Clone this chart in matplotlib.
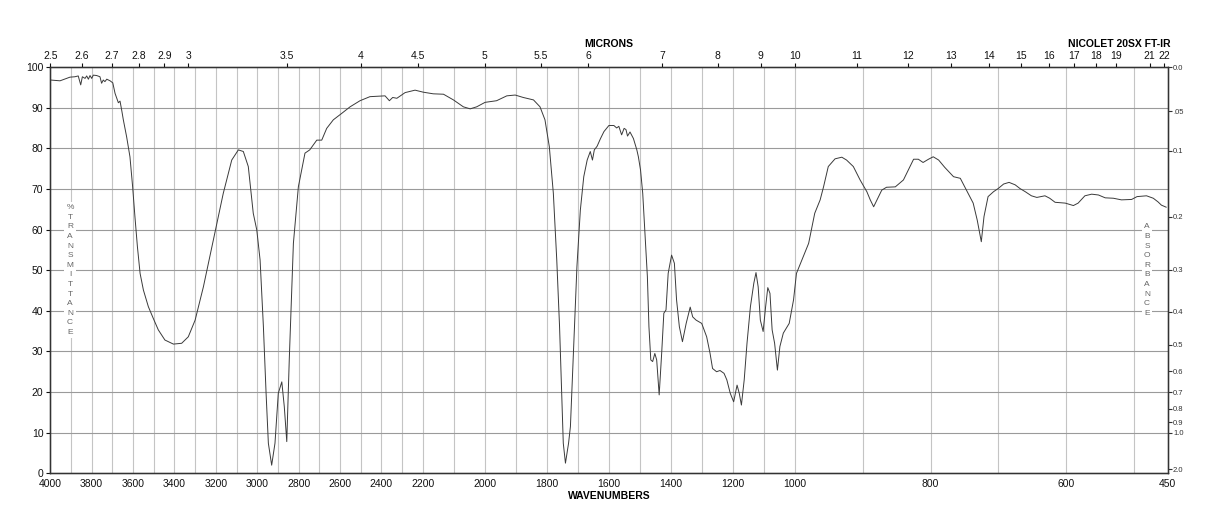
import numpy as np
import matplotlib
matplotlib.use("Agg")
import matplotlib.pyplot as plt

plt.rcParams['font.family'] = ['Liberation Sans', 'DejaVu Sans']

# --- spectrum: wavenumber (cm-1) and % transmittance ---
wavenumber = [
    4000, 3953, 3905, 3881, 3865, 3853, 3845, 3832, 3824, 3816, 3808, 3800,
    3792, 3776, 3760, 3752, 3744, 3736, 3727, 3711, 3698, 3687, 3671, 3663,
    3655, 3647, 3631, 3615, 3602, 3591, 3579, 3566, 3550, 3526, 3502, 3478,
    3446, 3405, 3365, 3333, 3300, 3260, 3212, 3164, 3123, 3091, 3067, 3043,
    3019, 3002, 2986, 2970, 2957, 2946, 2930, 2914, 2898, 2881, 2869, 2857,
    2845, 2825, 2801, 2769, 2746, 2712, 2688, 2664, 2632, 2591, 2551, 2503,
    2455, 2382, 2361, 2345, 2325, 2285, 2237, 2198, 2166, 2133, 2101, 2069,
    2047, 2026, 1999, 1962, 1929, 1902, 1876, 1843, 1822, 1806, 1792, 1779,
    1768, 1759, 1752, 1747, 1740, 1730, 1724, 1714, 1703, 1692, 1681, 1670,
    1660, 1653, 1647, 1638, 1627, 1616, 1600, 1584, 1575, 1568, 1559, 1551,
    1545, 1540, 1532, 1521, 1510, 1505, 1498, 1491, 1484, 1476, 1471, 1465,
    1459, 1452, 1446, 1438, 1430, 1423, 1416, 1409, 1398, 1389, 1382, 1373,
    1363, 1351, 1338, 1330, 1319, 1301, 1285, 1274, 1266, 1253, 1242, 1229,
    1220, 1209, 1198, 1187, 1180, 1173, 1164, 1155, 1144, 1133, 1126, 1119,
    1112, 1103, 1095, 1088, 1081, 1074, 1066, 1057, 1049, 1038, 1019, 1005,
    998, 988, 980, 971, 963, 958, 951, 941, 931, 924, 914, 904, 894, 889,
    884, 879, 872, 865, 852, 840, 833, 825, 818, 811, 803, 796, 788, 779,
    766, 756, 747, 737, 731, 725, 721, 715, 707, 700, 692, 684, 675, 668,
    660, 651, 643, 631, 624, 616, 601, 589, 582, 572, 562, 552, 542, 530,
    518, 503, 495, 481, 471, 464, 459, 452,
]
transmittance = [
    96.8, 96.6, 97.5, 97.6, 97.8, 95.6, 97.6, 97.2, 97.8, 97.0, 97.9, 97.2,
    98.0, 97.9, 97.6, 96.0, 96.8, 96.4, 97.0, 96.6, 96.1, 93.5, 91.2, 91.6,
    89.4, 87.0, 82.8, 77.9, 70.5, 63.2, 55.8, 49.2, 45.1, 41.0, 38.1, 35.3,
    32.8, 31.8, 32.0, 33.6, 37.7, 45.9, 57.4, 68.9, 77.1, 79.6, 79.2, 75.5,
    64.0, 59.9, 52.5, 36.1, 19.7, 7.4, 2.0, 7.4, 19.7, 22.5, 16.4, 7.8,
    27.9, 56.6, 70.5, 78.8, 79.6, 82.0, 82.0, 84.9, 87.0, 88.6, 90.2, 91.7,
    92.7, 92.9, 91.7, 92.5, 92.3, 93.7, 94.3, 93.8, 93.4, 93.3, 91.9, 90.2,
    89.7, 90.2, 91.3, 91.7, 92.9, 93.1, 92.5, 91.9, 90.2, 87.0, 80.4, 68.9,
    52.5, 36.1, 19.7, 7.4, 2.5, 7.4, 11.5, 30.3, 50.9, 64.8, 73.0, 77.1,
    79.2, 77.1, 79.6, 80.5, 82.4, 84.1, 85.6, 85.6, 85.0, 85.4, 83.3, 84.9,
    84.6, 83.0, 84.0, 82.4, 79.6, 77.9, 74.6, 68.9, 59.1, 48.4, 36.1, 27.9,
    27.5, 29.5, 27.9, 19.3, 29.5, 39.4, 40.2, 49.2, 53.7, 51.7, 42.7, 36.1,
    32.4, 36.9, 40.9, 38.5, 37.7, 36.9, 33.6, 29.5, 25.8, 25.0, 25.3, 24.6,
    23.0, 19.7, 17.6, 21.7, 19.7, 16.8, 23.0, 32.0, 41.0, 46.8, 49.4, 45.9,
    37.7, 34.9, 41.0, 45.7, 44.3, 35.3, 32.0, 25.4, 31.2, 34.5, 36.9, 42.7,
    49.2, 53.3, 56.6, 64.0, 67.3, 70.5, 75.5, 77.4, 77.8, 77.1, 75.5, 72.2, 69.3, 67.3,
    65.6, 67.3, 69.7, 70.4, 70.5, 72.2, 74.6, 77.3, 77.3, 76.5, 77.3, 77.9, 77.1, 75.3,
    73.0, 72.6, 69.7, 66.5, 62.3, 57.0, 63.2, 68.1, 69.3, 70.1, 71.2, 71.6, 71.0, 70.1,
    69.3, 68.3, 67.9, 68.3, 67.7, 66.7, 66.5, 65.9, 66.5, 68.3, 68.7, 68.5, 67.8, 67.7,
    67.3, 67.4, 68.1, 68.3, 67.7, 66.8, 66.0, 65.5,
]

# axis breaks: three equal-width panels 4000-2200, 2200-1000, 1000-450
breaks = [450, 1000, 2200, 4000]

bottom_ticks = [4000, 3800, 3600, 3400, 3200, 3000, 2800, 2600, 2400, 2200,
                2000, 1800, 1600, 1400, 1200, 1000, 800, 600, 450]
micron_ticks = [2.5, 2.6, 2.7, 2.8, 2.9, 3, 3.5, 4, 4.5, 5, 5.5, 6, 7, 8, 9,
                10, 11, 12, 13, 14, 15, 16, 17, 18, 19, 21, 22]
absorbance_ticks = [0.0, 0.05, 0.1, 0.2, 0.3, 0.4, 0.5, 0.6, 0.7, 0.8, 0.9, 1.0, 2.0]
absorbance_labels = ['0.0', '.05', '0.1', '0.2', '0.3', '0.4', '0.5', '0.6',
                     '0.7', '0.8', '0.9', '1.0', '2.0']


def forward(w):
    return np.interp(w, breaks, [0, 1, 2, 3])


def inverse(p):
    return np.interp(p, [0, 1, 2, 3], breaks)


fig = plt.figure(figsize=(12.18, 5.28), dpi=100)
ax = fig.add_axes([50.3 / 1218, 1 - 473.3 / 528, 1117.2 / 1218, 406.3 / 528])
ax.set_xscale('function', functions=(forward, inverse))
ax.set_xlim(4000, 450)
ax.set_ylim(0, 100)

# grid
for w in range(3900, 450, -100):
    ax.axvline(w, color='#c4c4c4', lw=0.8, zorder=0)
for t in range(10, 100, 10):
    ax.axhline(t, color='#9a9a9a', lw=0.8, zorder=0)

ax.plot(wavenumber, transmittance, color='#3a3a3a', lw=0.7, zorder=3)

for s in ax.spines.values():
    s.set_color('#333333')
    s.set_linewidth(1.0)

ax.set_xticks(bottom_ticks)
ax.set_xticklabels([str(b) for b in bottom_ticks])
ax.xaxis.set_minor_locator(matplotlib.ticker.NullLocator())
ax.tick_params(axis='x', length=0, pad=4, labelsize=7.5, colors='#111111')
ax.set_yticks(range(0, 101, 10))
ax.tick_params(axis='y', length=3, width=0.8, pad=2, labelsize=7.5, colors='#111111')

# top micron axis
ax_top = ax.twiny()
ax_top.set_xscale('function', functions=(forward, inverse))
ax_top.set_xlim(4000, 450)
ax_top.set_xticks([1e4 / m for m in micron_ticks])
ax_top.set_xticklabels([f"{m:g}" for m in micron_ticks])
ax_top.xaxis.set_minor_locator(matplotlib.ticker.NullLocator())
ax_top.tick_params(axis='x', length=3, width=0.8, pad=1, labelsize=7.5, colors='#111111')

# right absorbance axis
ax_right = ax.twinx()
ax_right.set_ylim(0, 100)
ax_right.set_yticks([100 * 10 ** (-a) for a in absorbance_ticks])
ax_right.set_yticklabels(absorbance_labels)
ax_right.tick_params(axis='y', length=3, width=0.8, pad=1, labelsize=5.5, colors='#333333')
for a in (ax_top, ax_right):
    for s in a.spines.values():
        s.set_color('#333333')

# stacked axis captions
ax.text(0.0176, 0.5, '\n'.join('%TRANSMITTANCE'), transform=ax.transAxes,
        ha='center', va='center', fontsize=6, color='#666666', linespacing=1.52,
        bbox=dict(facecolor='white', edgecolor='none', pad=1.5), zorder=4)
ax.text(0.9816, 0.5, '\n'.join('ABSORBANCE'), transform=ax.transAxes,
        ha='center', va='center', fontsize=6, color='#666666', linespacing=1.52,
        bbox=dict(facecolor='white', edgecolor='none', pad=1.5), zorder=4)

fig.text(609 / 1218, 1 - 44 / 528, 'MICRONS', ha='center', va='center',
         fontsize=7.5, fontweight='bold')
fig.text(1171 / 1218, 1 - 44 / 528, 'NICOLET 20SX FT-IR', ha='right', va='center',
         fontsize=7.5, fontweight='bold')
fig.text(609 / 1218, 1 - 496 / 528, 'WAVENUMBERS', ha='center', va='center',
         fontsize=7.5, fontweight='bold')

fig.savefig('out.png', dpi=100)
